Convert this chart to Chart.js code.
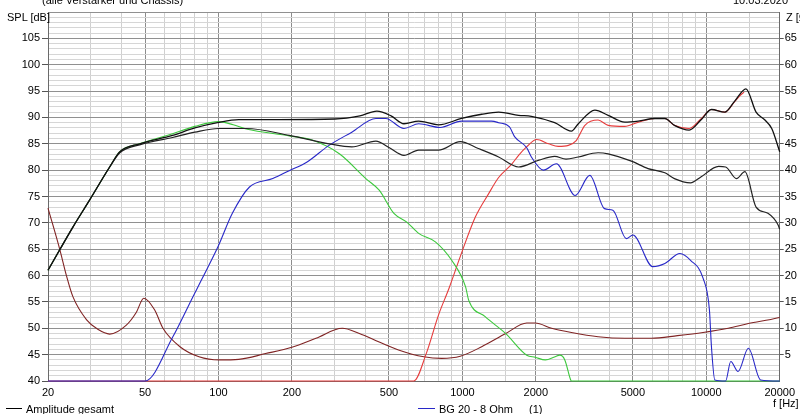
<!DOCTYPE html>
<html><head><meta charset="utf-8">
<script src="https://cdn.jsdelivr.net/npm/chart.js@4.4.1/dist/chart.umd.min.js"></script>
<style>
html,body{margin:0;padding:0;background:#fff;overflow:hidden}
#wrap{position:relative;width:800px;height:414px;overflow:hidden}
canvas{position:absolute;left:0;top:0}
.t{position:absolute;font-family:'Liberation Sans',Arial,sans-serif;font-size:11px;color:#000;white-space:nowrap;line-height:12px}
.ln{position:absolute;height:0;border-top:1px solid}
</style></head><body>
<div id="wrap"><canvas id="c" width="800" height="414"></canvas>
<div class="t" style="left:42px;top:-6px">(alle Verstärker und Chassis)</div>
<div class="t" style="left:733px;top:-6px">10.03.2020</div>
<div class="t" style="left:7px;top:11px">SPL [dB]</div>
<div class="t" style="left:786px;top:11px">Z [Ω]</div>
<div class="t" style="left:773px;top:397px">f [Hz]</div>
<div class="ln" style="left:6px;top:408px;width:16px;border-color:#000"></div>
<div class="t" style="left:26px;top:403px">Amplitude gesamt</div>
<div class="ln" style="left:418px;top:408px;width:17px;border-color:#2828c8"></div>
<div class="t" style="left:439px;top:403px">BG 20 - 8 Ohm</div>
<div class="t" style="left:529px;top:403px">(1)</div>
</div>
<script>
const xGrid=[20,30,40,50,60,70,80,90,100,150,200,300,400,500,600,700,800,900,1000,1500,2000,3000,4000,5000,6000,7000,8000,9000,10000,15000,20000];
const xLabels=[20,50,100,200,500,1000,2000,5000,10000,20000];
const xMajor=[50,100,200,500,1000,2000,5000,10000];

const totalFreq=[20,25.3,29.6,35.8,39.4,47.5,64.8,80,99,121,177,300,380,446,510,576,662,798,992,1200,1408,1700,1918,2390,2800,2988,3494,3960,4632,5263,6160,6765,7400,8510,9500,10500,11900,13080,14540,16000,17400,18550,20000];
const totalSpl=[61,69.2,74.3,80.6,83.5,85,86.6,88,89,89.6,89.6,89.7,90.3,91.2,90.3,88.8,89.3,88.6,89.8,90.6,91,90.4,90.2,89,87.4,88.8,91.4,90.4,89.1,89.3,89.8,89.8,88.5,87.6,89.5,91.5,91,93.1,95.4,91,89.5,87.9,83.5];

const total2Freq=[20,25.3,29.6,35.8,39.4,47.5,64.8,80,100,130,195,284,352,442,500,576,662,798,980,1162,1408,1700,2060,2390,2660,2988,3600,3960,4930,5770,6765,7400,8620,9500,11230,12000,13300,14400,16000,17900,19700,20000];
const total2Spl=[61,69.2,74.3,80.6,83.3,84.8,86.2,87.2,87.9,87.9,86.6,85,84.4,85.5,84.3,82.8,83.8,83.8,85.4,84.1,82.5,80.6,81.9,82.6,82.1,82.5,83.3,83.1,81.7,80.3,79.5,78.4,77.6,78.7,80.7,80.6,78.4,79.7,73,71.8,69.6,68.8];

const wooferFreq=[20,25.3,29.6,35.8,39.4,47.5,64.8,80,100,115,130,195,242,313,402,456,524,590,662,775,904,1030,1062,1240,1506,1836,1988,2190,2400,2510,2630,2780,2800,20000];
const wooferSpl=[61,69.2,74.3,80.6,83.5,85,86.9,88.3,89.2,88.6,87.8,86.5,85.7,83.1,78.4,76.2,71.8,70.2,68,66.4,62.9,57.9,55.3,52.2,49,44.9,44.5,44,44.6,44.9,44,40.2,40,40];

const midFreq=[20,50,65,78.6,85,99.4,114,134,167,195,230,284,352,442,485,576,662,810,992,1315,1408,1560,1640,1833,1918,2148,2430,2900,3330,3826,4140,4700,5000,6030,6765,7800,8620,9700,10300,10500,10840,12000,12600,13500,14880,16700,20000];
const midSpl=[40,40,48.4,56,59.1,65.4,71.8,76.8,78.4,79.9,81.5,84.7,87.2,89.8,89.8,87.9,88.8,88.1,89.3,89.3,89,88.2,86.3,84.3,82.5,80,81.2,75.2,79,72.7,72.4,67,67.7,61.7,62.3,64.2,62.9,59.5,53.5,46.5,40.2,40,43.7,41.8,46.2,40.2,40];

const tweeterFreq=[20,632,711,798,880,980,1130,1280,1408,1597,1700,1833,2015,2257,2472,2720,2930,3180,3600,3960,4630,5263,6160,6765,7400,8510,9500,10500,11900,13080,13860,14300];
const tweeterSpl=[40,40,45.2,52.5,57.5,63.6,71.1,75.5,78.6,81.2,82.8,84.4,85.8,85,84.5,84.7,85.6,88.5,89.5,88.5,88.3,89.1,89.8,89.8,88.5,87.9,89.7,91.5,91,93,94.3,94.8];

const impFreq=[20,22.4,23.8,25.3,28.8,32,35.8,41.9,46,49.4,54.7,59.2,69.5,83.2,101,121,156,200,251,322,378,456,547,695,823,980,1200,1506,1836,1988,2322,2800,3600,4632,5960,7620,9700,12300,14880,19700,20000];
const impOhm=[32.8,24.8,20,16,11.6,9.8,8.9,10.6,13,15.7,13.5,10,6.5,4.6,4,4.1,5.2,6.4,8.1,10,9,7.4,5.9,4.6,4.3,4.7,6.5,9,11,11,10,9.2,8.4,8.1,8.1,8.6,9.2,10,10.9,12,12.1];

function pts(f,v){return f.map((x,i)=>({x:x,y:v[i]}));}
Chart.defaults.font.family="'Liberation Sans', Arial, sans-serif";
Chart.defaults.font.size=11;
Chart.defaults.color='#000';

function ds(data,color,w,order,axis){
  return {data:data,borderColor:color,borderWidth:w,order:order,yAxisID:axis||'y',
    pointRadius:0,fill:false,cubicInterpolationMode:'monotone',clip:false};
}

new Chart(document.getElementById('c'),{
  type:'line',
  data:{datasets:[
    ds(pts(totalFreq,totalSpl),'#111111',1.3,1),
    ds(pts(total2Freq,total2Spl),'#222222',1.2,2),
    ds(pts(midFreq,midSpl),'#2828c8',1.1,3),
    ds(pts(wooferFreq,wooferSpl),'#3cc83c',1.1,4),
    ds(pts(tweeterFreq,tweeterSpl),'#e63c3c',1.1,5),
    ds(pts(impFreq,impOhm),'#802424',1.1,6,'y2')
  ]},
  options:{
    responsive:false,animation:false,devicePixelRatio:1,
    layout:{padding:{top:12,left:0,right:0,bottom:0}},
    plugins:{legend:{display:false},tooltip:{enabled:false}},
    scales:{
      x:{type:'logarithmic',min:20,max:20000,
        afterBuildTicks:s=>{s.ticks=xGrid.map(v=>({value:v}));},
        afterFit:s=>{s.height=33;},
        ticks:{autoSkip:false,maxRotation:0,minRotation:0,padding:5,color:'#000',
          callback:v=>xLabels.includes(v)?String(v):''},
        grid:{drawTicks:false,color:c=>xMajor.includes(c.tick&&c.tick.value)?'#8c8c8c':'#d0d0d0',lineWidth:1},
        border:{color:'#6a6a6a'}},
      y:{position:'left',min:40,max:110,
        afterBuildTicks:s=>{const t=[];for(let v=40;v<=110;v++)t.push({value:v});s.ticks=t;},
        afterFit:s=>{s.width=48;},
        ticks:{autoSkip:false,padding:2,color:'#000',callback:v=>(v%5===0&&v<110)?String(v):''},
        grid:{color:c=>(c.tick&&c.tick.value%5===0)?'#909090':'#d6d6d6',tickLength:6,
          tickColor:c=>(c.tick&&c.tick.value%5===0&&c.tick.value<110)?'#555':'rgba(0,0,0,0)'},
        border:{color:'#6a6a6a'}},
      y2:{position:'right',min:0,max:70,
        afterBuildTicks:s=>{const t=[];for(let v=0;v<=70;v+=5)t.push({value:v});s.ticks=t;},
        afterFit:s=>{s.width=18;},
        ticks:{autoSkip:false,padding:1,color:'#000',callback:v=>(v>0&&v<70)?String(v):''},
        grid:{drawOnChartArea:false,tickLength:4,
          tickColor:c=>(c.tick&&c.tick.value>0&&c.tick.value<70)?'#555':'rgba(0,0,0,0)'},
        border:{color:'#6a6a6a'}}
    }
  }
});
</script>
</body></html>
